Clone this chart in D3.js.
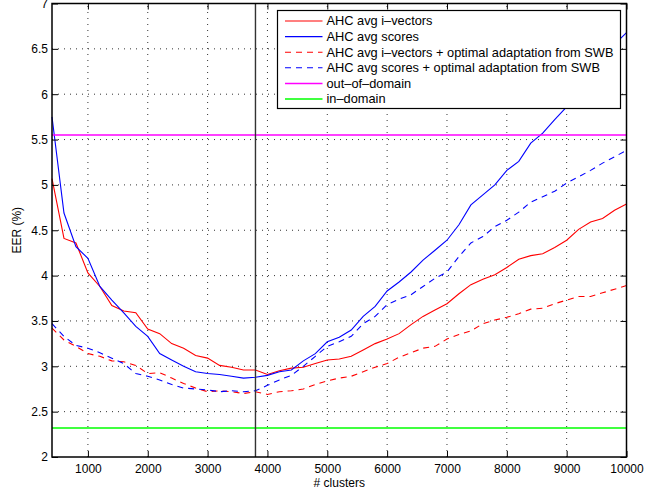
<!DOCTYPE html>
<html>
<head>
<meta charset="utf-8">
<script src="https://cdn.jsdelivr.net/npm/d3@7"></script>
<style>
  body { margin: 0; background: #fff; }
  svg text { font-family: "Liberation Sans", Arial, Helvetica, sans-serif; fill: #000; }
</style>
</head>
<body>
<div id="chart"></div>
<script>
// number of clusters, sampled every 200
const clusters = d3.range(400, 10001, 200);

const ivecAvg = [5.07, 4.41, 4.36, 4.03, 3.88, 3.67, 3.61, 3.59, 3.41, 3.36, 3.25, 3.20, 3.12, 3.09, 3.01, 2.99, 2.96, 2.96,
  2.91, 2.95, 2.98, 2.99, 3.03, 3.07, 3.08, 3.11, 3.18, 3.25, 3.30, 3.36, 3.46, 3.55, 3.62, 3.69, 3.80, 3.90, 3.96, 4.01,
  4.09, 4.18, 4.22, 4.24, 4.31, 4.39, 4.51, 4.59, 4.63, 4.72, 4.79];
const scoresAvg = [5.75, 4.69, 4.32, 4.19, 3.88, 3.73, 3.59, 3.44, 3.33, 3.14, 3.07, 3.00, 2.94, 2.92, 2.91, 2.89, 2.87, 2.88,
  2.90, 2.94, 2.96, 3.06, 3.14, 3.27, 3.32, 3.40, 3.55, 3.66, 3.83, 3.93, 4.04, 4.17, 4.28, 4.39, 4.56, 4.78, 4.89, 5.00,
  5.16, 5.26, 5.46, 5.57, 5.72, 5.86, 6.05, 6.22, 6.40, 6.55, 6.68];
const ivecAdapt = [3.42, 3.29, 3.22, 3.14, 3.11, 3.06, 3.05, 3.01, 2.92, 2.93, 2.87, 2.81, 2.76, 2.72, 2.73, 2.72, 2.70, 2.72,
  2.69, 2.72, 2.73, 2.75, 2.80, 2.84, 2.87, 2.89, 2.94, 2.99, 3.03, 3.10, 3.15, 3.20, 3.22, 3.30, 3.35, 3.39, 3.47, 3.51,
  3.54, 3.58, 3.63, 3.64, 3.69, 3.73, 3.77, 3.77, 3.81, 3.85, 3.89];
const scoresAdapt = [3.47, 3.33, 3.23, 3.20, 3.15, 3.09, 3.03, 2.92, 2.89, 2.85, 2.80, 2.76, 2.75, 2.74, 2.72, 2.73, 2.72, 2.73,
  2.79, 2.85, 2.90, 3.00, 3.11, 3.22, 3.27, 3.33, 3.47, 3.55, 3.68, 3.74, 3.79, 3.88, 3.97, 4.04, 4.21, 4.36, 4.43, 4.54,
  4.61, 4.70, 4.81, 4.87, 4.93, 5.02, 5.09, 5.16, 5.24, 5.31, 5.38];

const outOfDomain = 5.55;
const inDomain = 2.32;
const markerClusters = 3800;

const xTicks = [1000, 2000, 3000, 4000, 5000, 6000, 7000, 8000, 9000, 10000];
const yTicks = [2, 2.5, 3, 3.5, 4, 4.5, 5, 5.5, 6, 6.5, 7];

const seriesNames = ["AHC avg i\u2013vectors", "AHC avg scores",
  "AHC avg i\u2013vectors + optimal adaptation from SWB", "AHC avg scores + optimal adaptation from SWB",
  "out\u2013of\u2013domain", "in\u2013domain"];

const width = 657, height = 490;
const margin = { left: 52, right: 30.5, top: 3.5, bottom: 33 };

const svg = d3.select("#chart").append("svg")
  .attr("width", width)
  .attr("height", height);

const x = d3.scaleLinear().domain([400, 10000]).range([margin.left, width - margin.right]);
const y = d3.scaleLinear().domain([2, 7]).range([height - margin.bottom, margin.top]);

// dotted grid
const grid = svg.append("g")
  .attr("stroke", "#333")
  .attr("stroke-width", 1)
  .attr("stroke-dasharray", "1,5");
grid.selectAll(".gx").data(xTicks.slice(0, -1)).join("line")
  .attr("x1", d => x(d)).attr("x2", d => x(d))
  .attr("y1", y(2)).attr("y2", y(7));
grid.selectAll(".gy").data(yTicks.slice(1, -1)).join("line")
  .attr("x1", x(400)).attr("x2", x(10000))
  .attr("y1", d => y(d)).attr("y2", d => y(d));

const series = [
  { name: seriesNames[0], values: ivecAvg, color: "#ff0000", dash: null },
  { name: seriesNames[1], values: scoresAvg, color: "#0000ff", dash: null },
  { name: seriesNames[2], values: ivecAdapt, color: "#ff0000", dash: "6,5" },
  { name: seriesNames[3], values: scoresAdapt, color: "#0000ff", dash: "6,5" },
];

const line = d3.line()
  .x((d, i) => x(clusters[i]))
  .y(d => y(d));

svg.append("g").selectAll("path")
  .data(series)
  .join("path")
  .attr("fill", "none")
  .attr("stroke", d => d.color)
  .attr("stroke-width", 1.1)
  .attr("stroke-dasharray", d => d.dash)
  .attr("d", d => line(d.values));

// reference levels
const refs = [
  { name: seriesNames[4], value: outOfDomain, color: "#ff00ff" },
  { name: seriesNames[5], value: inDomain, color: "#00ff00" },
];
svg.append("g").selectAll("line")
  .data(refs)
  .join("line")
  .attr("x1", x(400)).attr("x2", x(10000))
  .attr("y1", d => y(d.value)).attr("y2", d => y(d.value))
  .attr("stroke", d => d.color)
  .attr("stroke-width", 1.5);

svg.append("line")
  .attr("x1", x(markerClusters)).attr("x2", x(markerClusters))
  .attr("y1", y(2)).attr("y2", y(7))
  .attr("stroke", "#333")
  .attr("stroke-width", 1.4);

// axes, ticks pointing inward like matlab
const tickLen = 6;
const fontSize = "12px";
svg.append("g")
  .attr("transform", `translate(0,${y(2)})`)
  .call(d3.axisBottom(x).tickValues(xTicks).tickFormat(d3.format("d")).tickSize(-tickLen).tickPadding(7).tickSizeOuter(0))
  .call(g => g.select(".domain").remove())
  .call(g => g.selectAll("text").style("font-size", fontSize));
svg.append("g")
  .attr("transform", `translate(0,${y(7)})`)
  .call(d3.axisTop(x).tickValues(xTicks).tickSize(-tickLen).tickFormat("").tickSizeOuter(0))
  .call(g => g.select(".domain").remove());
svg.append("g")
  .attr("transform", `translate(${x(400)},0)`)
  .call(d3.axisLeft(y).tickValues(yTicks).tickFormat(d3.format("")).tickSize(-tickLen).tickPadding(4).tickSizeOuter(0))
  .call(g => g.select(".domain").remove())
  .call(g => g.selectAll("text").style("font-size", fontSize));
svg.append("g")
  .attr("transform", `translate(${x(10000)},0)`)
  .call(d3.axisRight(y).tickValues(yTicks).tickSize(-tickLen).tickFormat("").tickSizeOuter(0))
  .call(g => g.select(".domain").remove());

svg.append("rect")
  .attr("x", x(400)).attr("y", y(7))
  .attr("width", x(10000) - x(400))
  .attr("height", y(2) - y(7))
  .attr("fill", "none")
  .attr("stroke", "#000")
  .attr("stroke-width", 1.5);

// legend
const legend = svg.append("g").attr("transform", "translate(277.5,10.5)");
legend.append("rect")
  .attr("width", 343).attr("height", 98)
  .attr("fill", "#fff")
  .attr("stroke", "#000")
  .attr("stroke-width", 1.2);
const items = [...series, ...refs];
const row = legend.selectAll(".item").data(items).join("g")
  .attr("transform", (d, i) => `translate(0,${10.5 + i * 15.6})`);
row.append("line")
  .attr("x1", 7.5).attr("x2", 45)
  .attr("stroke", d => d.color)
  .attr("stroke-width", d => d.dash === undefined ? 1.5 : 1.1)
  .attr("stroke-dasharray", d => d.dash);
row.append("text")
  .attr("x", 49)
  .attr("dy", "0.35em")
  .style("font-size", "12.8px")
  .text(d => d.name);

// axis labels
svg.append("text")
  .attr("x", (x(400) + x(10000)) / 2)
  .attr("y", 487)
  .attr("text-anchor", "middle")
  .style("font-size", fontSize)
  .text("# clusters");
svg.append("text")
  .attr("transform", `translate(21,${(y(2) + y(7)) / 2}) rotate(-90)`)
  .attr("text-anchor", "middle")
  .style("font-size", fontSize)
  .text("EER (%)");
</script>
</body>
</html>
